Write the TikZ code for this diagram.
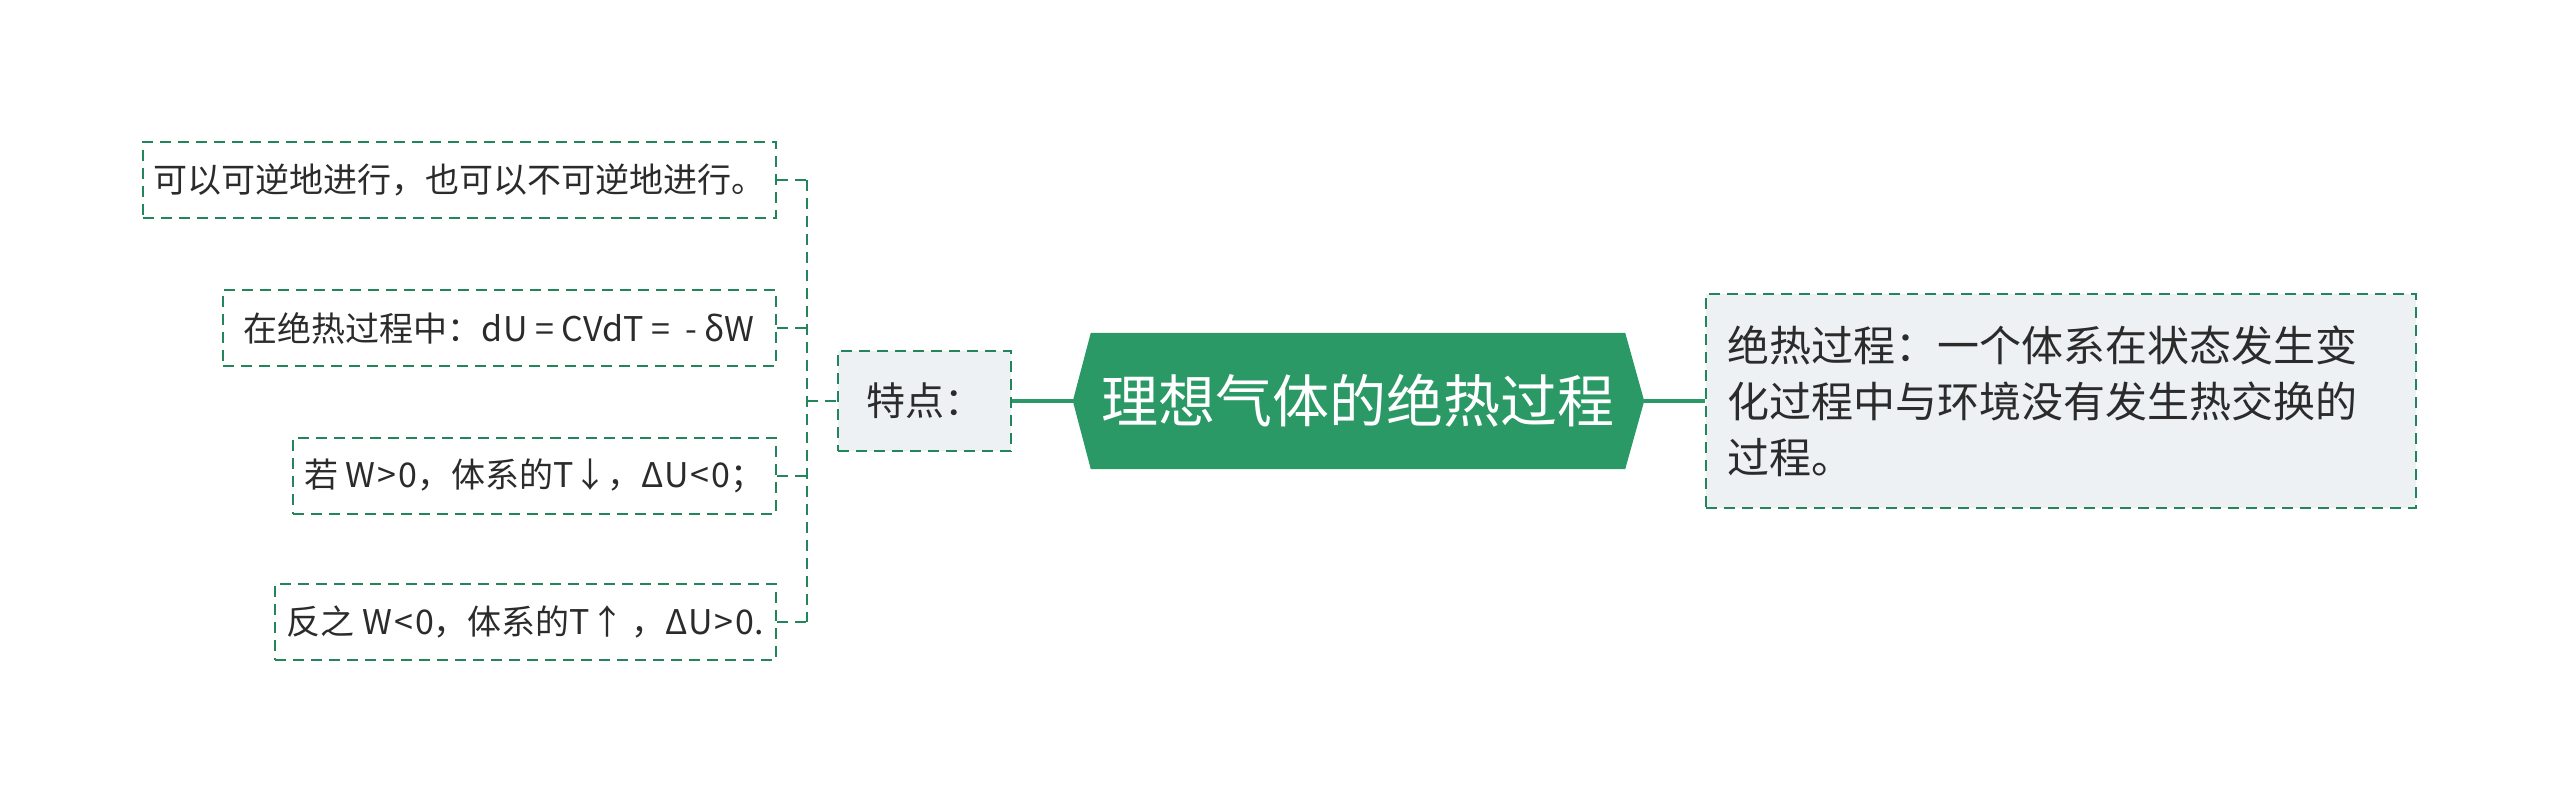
\documentclass[tikz,border=0pt]{standalone}
\usepackage{fontspec}
\setmainfont{Noto Sans CJK SC}
\usetikzlibrary{calc,backgrounds}
\definecolor{mgreen}{HTML}{2A9966}
\definecolor{lgreen}{HTML}{23865A}
\definecolor{lfill}{HTML}{EEF1F4}
\definecolor{tcol}{HTML}{2B2B2B}
\begin{document}
\begin{tikzpicture}[x=1pt,y=-1pt,
  leaf/.style={draw=lgreen, line width=2.2pt, dash pattern=on 11pt off 7pt, rectangle,
    minimum height=76pt, anchor=east, text=tcol, font=\fontsize{34}{40}\selectfont, inner sep=0pt},
  fbox/.style={draw=lgreen, line width=2.2pt, dash pattern=on 11pt off 7pt, rectangle,
    fill=lfill, text=tcol, inner sep=0pt},
  conn/.style={draw=lgreen, line width=2.2pt, dash pattern=on 11pt off 7pt},
  solidc/.style={draw=mgreen, line width=4pt}]
\useasboundingbox (0,0) rectangle (2560,805);

\node[leaf, minimum width=633pt] (l1) at (777,180) {可以可逆地进行，也可以不可逆地进行。};
\node[leaf, minimum width=553pt] (l2) at (777,328) {在绝热过程中：dU = CVdT =\ \ - δW};
\node[leaf, minimum width=483pt] (l3) at (777,476) {若 W\hspace{2pt}>\hspace{2pt}0，体系的T↓，ΔU\hspace{2pt}<\hspace{2pt}0；};
\node[leaf, minimum width=501pt] (l4) at (777,622) {反之 W\hspace{2pt}<\hspace{2pt}0，体系的T↑ ，ΔU\hspace{2pt}>\hspace{2pt}0.};

\node[fbox, minimum width=173pt, minimum height=100pt, font=\fontsize{39}{42}\selectfont] (td) at (924.5,401) {特点：};

\node[minimum width=534pt, minimum height=136pt, inner sep=0pt, text=white,
  font=\fontsize{57}{60}\selectfont] (c) at (1358,401) {理想气体的绝热过程};
\coordinate (cl) at ($(c.west)+(-18,0)$);
\coordinate (cr) at ($(c.east)+(19,0)$);
\begin{scope}[on background layer]
\fill[mgreen] (c.north west) -- (c.north east) -- (cr) -- (c.south east) -- (c.south west) -- (cl) -- cycle;
\end{scope}

\node[fbox, minimum width=710pt, minimum height=214pt, inner xsep=21pt, text width=668pt,
  align=left, font=\fontsize{42}{56}\selectfont] (r) at (2061,401)
  {绝热过程：一个体系在状态发生变\\化过程中与环境没有发生热交换的\\过程。};

\coordinate (spx) at (807,401);
\draw[conn] (l1.east) -- (l1.east -| spx);
\draw[conn] (l2.east) -- (l2.east -| spx);
\draw[conn] (l3.east) -- (l3.east -| spx);
\draw[conn] (l4.east) -- (l4.east -| spx);
\draw[conn] (l1.east -| spx) -- (l4.east -| spx);
\draw[conn] (spx) -- (td.west);
\draw[solidc] (td.east) -- (cl);
\draw[solidc] (cr) -- (r.west);
\end{tikzpicture}
\end{document}
